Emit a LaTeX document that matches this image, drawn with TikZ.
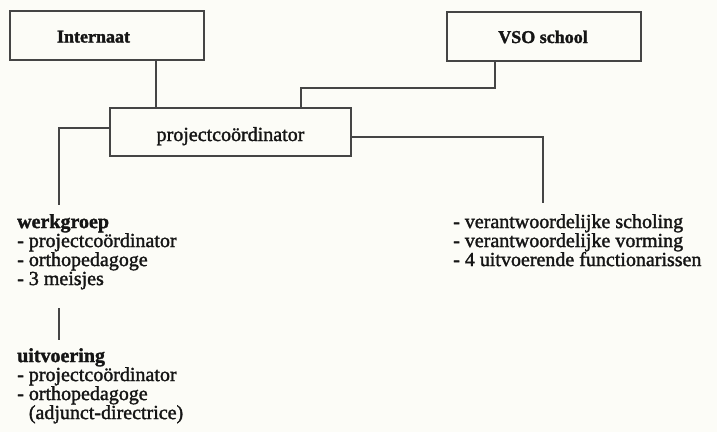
\documentclass[tikz,border=0pt]{standalone}
\usepackage{fontspec}
\setmainfont{Liberation Serif}[FakeBold=1.6]
\definecolor{bg}{HTML}{FCFCF7}
\definecolor{ln}{HTML}{454545}
\definecolor{tx}{HTML}{151515}
\begin{document}
\begin{tikzpicture}[x=1pt,y=-1pt,
  box/.style={draw=ln,line width=1.4pt,rectangle,inner sep=0pt},
  conn/.style={draw=ln,line width=1.1pt},
  lbl/.style={inner sep=0pt,text=tx,font=\fontsize{20}{19}\selectfont},
  lst/.style={inner sep=0pt,text=tx,align=left,anchor=north west,font=\fontsize{20}{19}\selectfont}]
\fill[bg] (0,0) rectangle (717,432);
\useasboundingbox (0,0) rectangle (717,432);
% boxes
\node[box,minimum width=194pt,minimum height=49pt] (intern) at (107,35.5) {};
\node[lbl,font=\fontsize{18}{19}\selectfont\bfseries,anchor=base] (internt) at (93.5,42.5) {Internaat};
\node[box,minimum width=194pt,minimum height=49pt] (vso) at (544,36.5) {};
\node[lbl,font=\fontsize{18}{19}\selectfont\bfseries,anchor=base] (vsot) at (543,43) {VSO school};
\node[box,minimum width=241pt,minimum height=48pt] (pc) at (230.5,132) {};
\node[lbl,anchor=base] (pct) at (230.5,141) {projectcoördinator};
% coordinates
\coordinate (c1) at (156,0);
\coordinate (c2) at (495,88);
\coordinate (c3) at (301,88);
\coordinate (c4) at (59,128);
\coordinate (e1) at (59,205);
\coordinate (c5) at (543,137);
\coordinate (e2) at (543,203);
\coordinate (e3) at (59,308);
\coordinate (e4) at (59,340);
% connectors
\draw[conn] (intern.south -| c1) -- (pc.north -| c1);
\draw[conn] (vso.south -| c2) -- (c2) -- (c3) -- (pc.north -| c3);
\draw[conn] (pc.west |- c4) -- (c4) -- (e1);
\draw[conn] (pc.east |- c5) -- (c5) -- (e2);
\draw[conn] (e3) -- (e4);
% lists
\node[lst] (wg) at (17,214) {\textbf{werkgroep}\\- projectcoördinator\\- orthopedagoge\\- 3 meisjes};
\node[lst] (ui) at (17,348) {\textbf{uitvoering}\\- projectcoördinator\\- orthopedagoge\\\hphantom{- }(adjunct-directrice)};
\node[lst] (rl) at (453,214) {- verantwoordelijke scholing\\- verantwoordelijke vorming\\- 4 uitvoerende functionarissen};
\end{tikzpicture}
\end{document}
